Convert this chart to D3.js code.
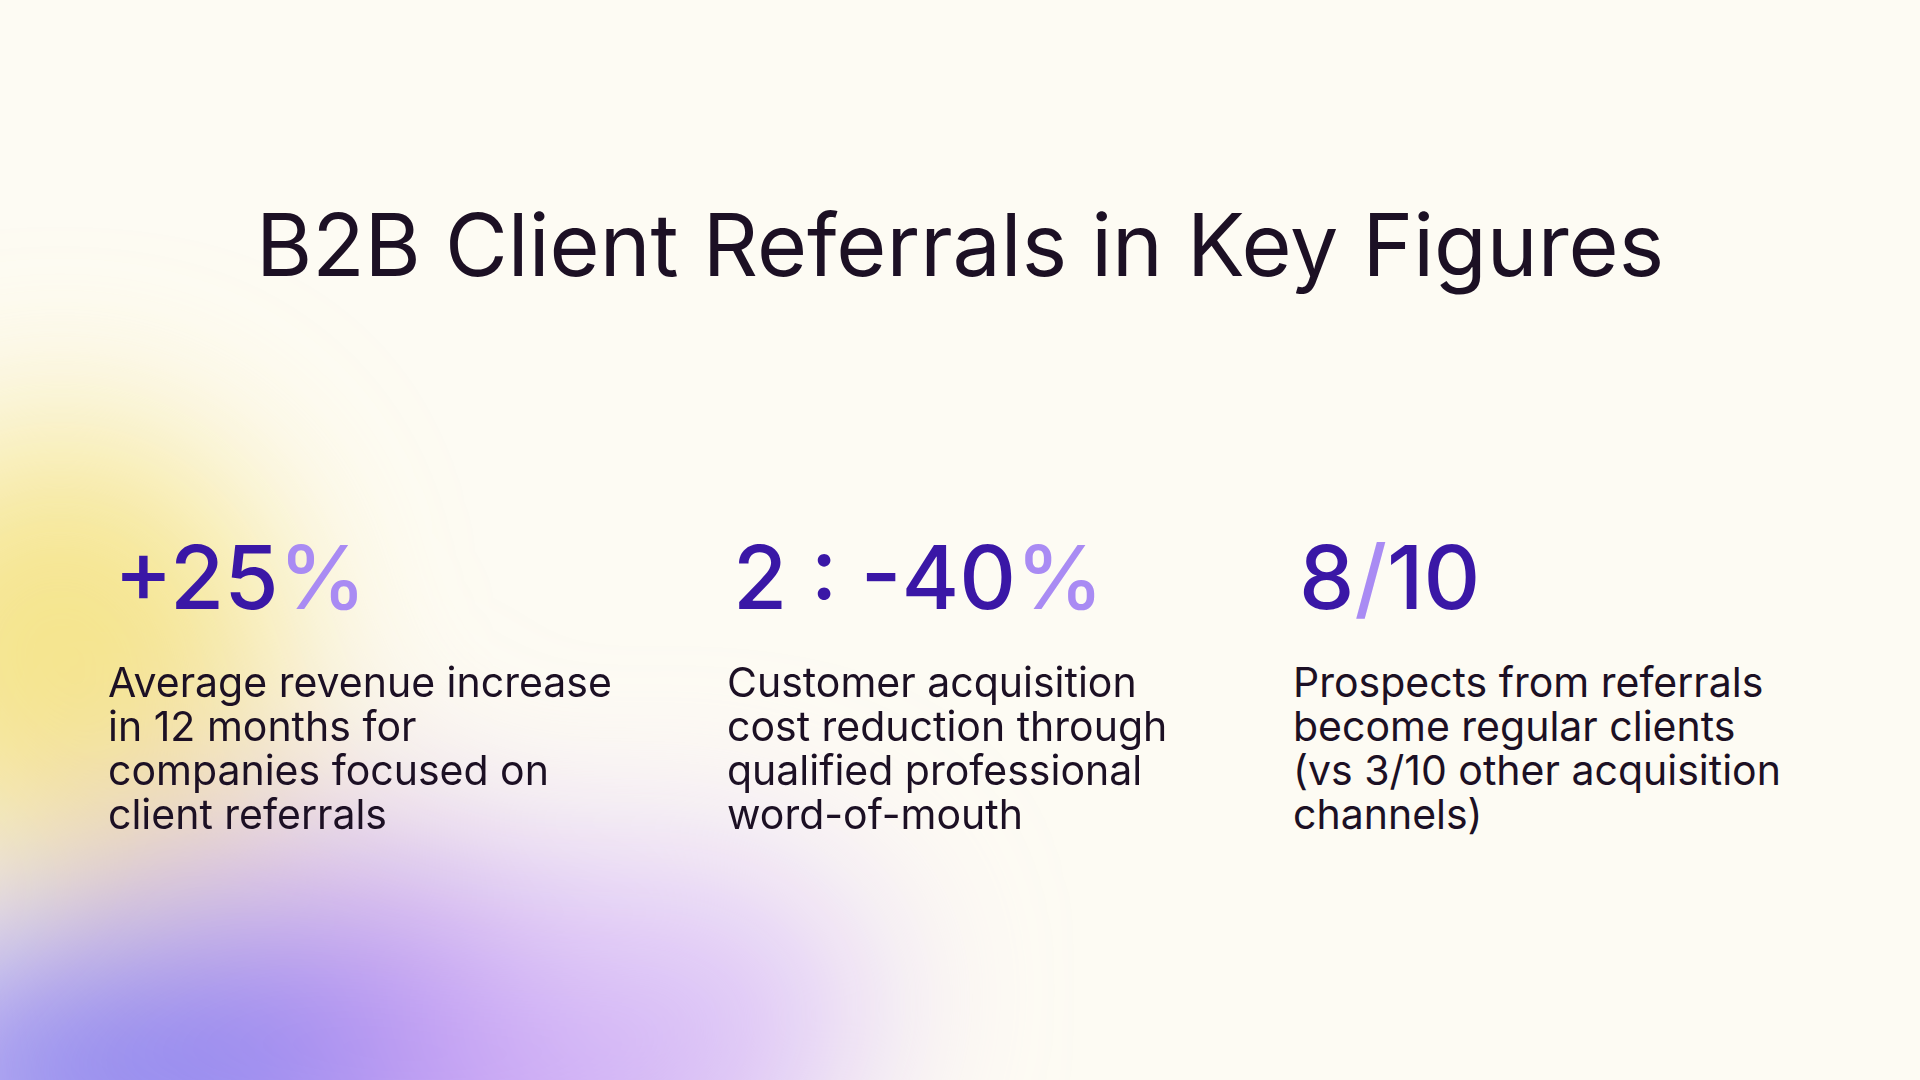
<!DOCTYPE html>
<html><head><meta charset="utf-8">
<script src="https://cdn.jsdelivr.net/npm/d3@7"></script>
<style>html,body{margin:0;padding:0;background:#fdfbf3;}svg{display:block;}</style>
</head><body>
<script>
const title = "B2B Client Referrals in Key Figures";
const figMain1 = ["+25", "2 : -40", "8"];
const figAccent = ["%", "%", "/"];
const figMain2 = ["", "", "10"];
const descriptions = [
  ["Average revenue increase", "in 12 months for", "companies focused on", "client referrals"],
  ["Customer acquisition", "cost reduction through", "qualified professional", "word-of-mouth"],
  ["Prospects from referrals", "become regular clients", "(vs 3/10 other acquisition", "channels)"]
];
const columns = [0, 1, 2];

const W = 1920, H = 1080;
const svg = d3.select("body").append("svg").attr("width", W).attr("height", H);
const defs = svg.append("defs");
const f = defs.append("filter").attr("id", "blur").attr("x", "-50%").attr("y", "-50%").attr("width", "200%").attr("height", "200%");
f.append("feGaussianBlur").attr("stdDeviation", 90);

svg.append("rect").attr("width", W).attr("height", H).attr("fill", "#fdfbf3");
const blobs = svg.append("g").attr("filter", "url(#blur)");
blobs.append("ellipse").attr("cx", 60).attr("cy", 650).attr("rx", 220).attr("ry", 220).attr("fill", "#f3e07a").attr("opacity", 0.85);
blobs.append("ellipse").attr("cx", 250).attr("cy", 860).attr("rx", 200).attr("ry", 110).attr("fill", "#e6cfd0").attr("opacity", 0.6);
blobs.append("ellipse").attr("cx", 430).attr("cy", 1060).attr("rx", 400).attr("ry", 190).attr("fill", "#c29cf3").attr("opacity", 1);
blobs.append("ellipse").attr("cx", 120).attr("cy", 1080).attr("rx", 260).attr("ry", 150).attr("fill", "#8f86ee").attr("opacity", 0.95);
blobs.append("ellipse").attr("cx", 680).attr("cy", 990).attr("rx", 200).attr("ry", 140).attr("fill", "#e0c9f7").attr("opacity", 0.8);

const font = "Inter, 'Noto Sans', sans-serif";
svg.append("text").attr("x", W/2).attr("y", 276).attr("text-anchor", "middle")
  .attr("font-family", font).attr("font-size", 86).attr("fill", "#1c1024").text(title);

const xs = [108, 727, 1293];
const g = svg.selectAll("g.col").data(columns).join("g").attr("class", "col")
  .attr("transform", d => `translate(${xs[d]},0)`);

const num = g.append("text").attr("x", 6).attr("y", 609)
  .attr("font-family", font).attr("font-size", 88).attr("font-weight", 500);
num.append("tspan").attr("fill", "#3a17a6").text(d => figMain1[d]);
num.append("tspan").attr("fill", "#a98bf3").text(d => figAccent[d]);
num.append("tspan").attr("fill", "#3a17a6").text(d => figMain2[d]);

g.each(function(d) {
  d3.select(this).selectAll("text.desc").data(descriptions[d]).join("text").attr("class", "desc")
    .attr("x", 0).attr("y", (t, i) => 697 + i * 44)
    .attr("font-family", font).attr("font-size", 41).attr("fill", "#1c1024").text(t => t);
});
</script>
</body></html>
